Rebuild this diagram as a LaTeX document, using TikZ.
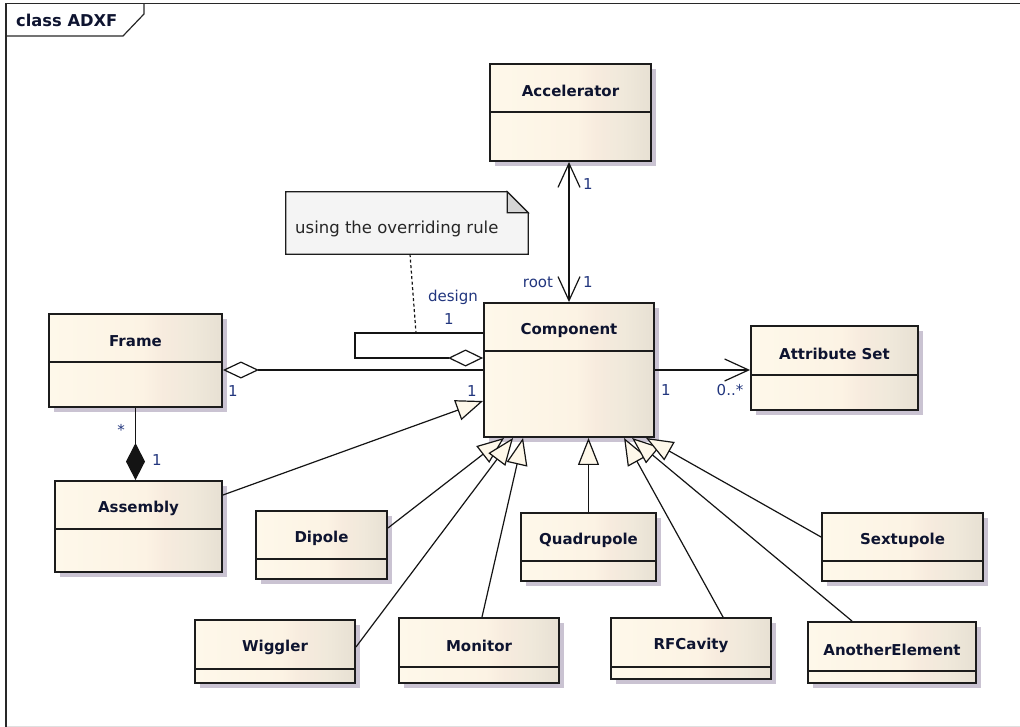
\documentclass[tikz,border=0pt]{standalone}
\usepackage{fontspec}
\setmainfont{DejaVu Sans}
\usetikzlibrary{arrows.meta}

% class body colours (horizontal gradient) and other colours
\definecolor{clsA}{RGB}{254,248,234}
\definecolor{clsB}{RGB}{252,243,228}
\definecolor{clsC}{RGB}{247,235,222}
\definecolor{clsD}{RGB}{240,233,219}
\definecolor{clsE}{RGB}{231,224,211}
\definecolor{shadowc}{RGB}{202,195,210}
\definecolor{boxline}{RGB}{28,28,28}
\definecolor{linec}{RGB}{20,20,20}
\definecolor{titlec}{RGB}{14,20,48}
\definecolor{multc}{RGB}{34,54,126}
\definecolor{notefill}{RGB}{244,244,244}
\definecolor{earfill}{RGB}{212,212,212}
\definecolor{framec}{RGB}{40,40,40}

\pgfdeclarehorizontalshading{eaclass}{100bp}{color(0bp)=(clsA); color(25bp)=(clsA);
  color(52bp)=(clsB); color(58bp)=(clsC); color(66bp)=(clsD); color(75bp)=(clsE); color(100bp)=(clsE)}

\tikzset{
  clsbox/.style={draw=boxline, line width=1.9pt, shading=eaclass, inner sep=0pt},
  clstitle/.style={font=\fontsize{15}{18}\selectfont\bfseries, text=titlec, inner sep=0pt},
  mult/.style={font=\fontsize{15}{18}\selectfont, text=multc, inner sep=0pt},
  conn/.style={line width=1.2pt, draw=linec},
  gen/.style={conn, -{Triangle[open, length=27pt, width=21pt, fill=clsA]}},
  navboth/.style={conn, {Straight Barb[length=24pt, width=22pt]}-{Straight Barb[length=24pt, width=22pt]}},
  navend/.style={conn, -{Straight Barb[length=24pt, width=22pt]}},
  aggstart/.style={conn, {Diamond[open, length=36pt, width=17pt, fill=white]}-},
  aggend/.style={conn, -{Diamond[open, length=35pt, width=17pt, fill=white]}},
  compend/.style={conn, -{Diamond[length=37pt, width=19pt]}},
  notelink/.style={line width=1.2pt, draw=linec, dash pattern=on 3pt off 2.5pt},
}

% a UML class: name, left, top, right, bottom, compartment divider, title
\newcommand\umlclass[7]{%
  \fill[shadowc] (#2+5,#3+5) rectangle (#4+5,#5+5);
  \node[clsbox, minimum width={#4-#2}, minimum height={#5-#3}] (#1) at ({(#2+#4)/2},{(#3+#5)/2}) {};
  \draw[boxline, line width=1.4pt] (#2,#6) -- (#4,#6);
  \node[clstitle] (#1-title) at ({(#2+#4)/2},{(#3+#6)/2+3}) {#7};
}

\begin{document}
\begin{tikzpicture}[x=1pt, y=-1pt]
\useasboundingbox (0,0) rectangle (1020,727);
\fill[white] (0,0) rectangle (1020,727);

% diagram frame with its name tab
\draw[gray!25, line width=1pt] (6,726) -- (1020,726);
\draw[framec, line width=1.6pt] (1021,3.5) -- (6,3.5) -- (6,727);
\draw[framec, line width=1.2pt] (6,36) -- (123,36) -- (144,14) -- (144,3.5);
\node[font=\fontsize{16.3}{19}\selectfont\bfseries, text=titlec, anchor=west, inner sep=0pt] (frametitle) at (16,20) {class ADXF};

% classes
\umlclass{acc}{490}{64}{651}{161}{112}{Accelerator}
\umlclass{comp}{484}{303}{654}{437}{351}{Component}
\umlclass{attr}{751}{326}{918}{410}{375}{Attribute Set}
\umlclass{frame}{49}{314}{222}{407}{362}{Frame}
\umlclass{asm}{55}{481}{222}{572}{529}{Assembly}
\umlclass{dip}{256}{511}{387}{579}{559}{Dipole}
\umlclass{quad}{521}{513}{656}{581}{561}{Quadrupole}
\umlclass{sext}{822}{513}{983}{581}{561}{Sextupole}
\umlclass{wig}{195}{620}{355}{683}{669}{Wiggler}
\umlclass{mon}{399}{618}{559}{683}{667}{Monitor}
\umlclass{rfc}{611}{618}{771}{679}{667}{RFCavity}
\umlclass{other}{808}{622}{976}{683}{671}{AnotherElement}

% note with folded corner
\node[minimum width=242, minimum height=62, inner sep=0pt] (note) at (407,223) {};
\filldraw[fill=notefill, draw=boxline, line width=1.2pt]
  (note.north west) -- ([xshift=-21pt]note.north east) -- ([yshift=-21pt]note.north east)
  -- (note.south east) -- (note.south west) -- cycle;
\filldraw[fill=earfill, draw=boxline, line width=1.2pt]
  ([xshift=-21pt]note.north east) -- ([xshift=-21pt,yshift=-21pt]note.north east) -- ([yshift=-21pt]note.north east) -- cycle;
\node[font=\fontsize{16.5}{19}\selectfont, text=black!85, anchor=west, inner sep=0pt] (notetext) at (295,229) {using the overriding rule};

% Component self association (design)
\draw[aggend] (comp.west |- 0,333) -- ++(-128,0) -- ++(0,25) -- (comp.west |- 0,358);
\coordinate (selfloop) at (416,333);
\draw[notelink] (note.south -| 410,0) -- (selfloop);
\node[mult] (designlbl) at (453,297) {design};
\node[mult] (designmult) at (449,319) {1};

% Accelerator -- Component
\draw[navboth] (acc.south -| comp.north) -- (comp.north);
\node[mult] (accmult) at (588,184) {1};
\node[mult] (rootlbl) at (538,282) {root};
\node[mult] (rootmult) at (588,282) {1};

% Frame -- Component aggregation
\draw[aggstart] (frame.east |- comp.west) -- (comp.west);
\node[mult] (framemult) at (233,391) {1};
\node[mult] (compmult) at (472,391) {1};

% Component -> AttributeSet
\draw[navend] (comp.east) -- (comp.east -| attr.west);
\node[mult] (attrsrc) at (666,390) {1};
\node[mult] (attrdst) at (730,390) {0..*};

% Frame -- Assembly composition
\draw[compend] (frame.south) -- (frame.south |- asm.north);
\node[mult] (asmstar) at (121,430) {*};
\node[mult] (asmmult) at (157,460) {1};

% generalizations to Component
\draw[gen] (asm.east |- 0,495) -- (comp.west |- 0,401);
\draw[gen] (dip.east |- 0,528) -- ([xshift=21pt]comp.south west);
\draw[gen] (wig.east |- 0,647) -- ([xshift=30pt]comp.south west);
\draw[gen] ([xshift=3pt]mon.north) -- ([xshift=40pt]comp.south west);
\draw[gen] (quad.north) -- (quad.north |- comp.south);
\draw[gen] ([xshift=32pt]rfc.north) -- ([xshift=141pt]comp.south west);
\draw[gen] ([xshift=-40pt]other.north) -- ([xshift=149pt]comp.south west);
\draw[gen] ([yshift=10pt]sext.west) -- ([xshift=163pt]comp.south west);
\end{tikzpicture}
\end{document}
